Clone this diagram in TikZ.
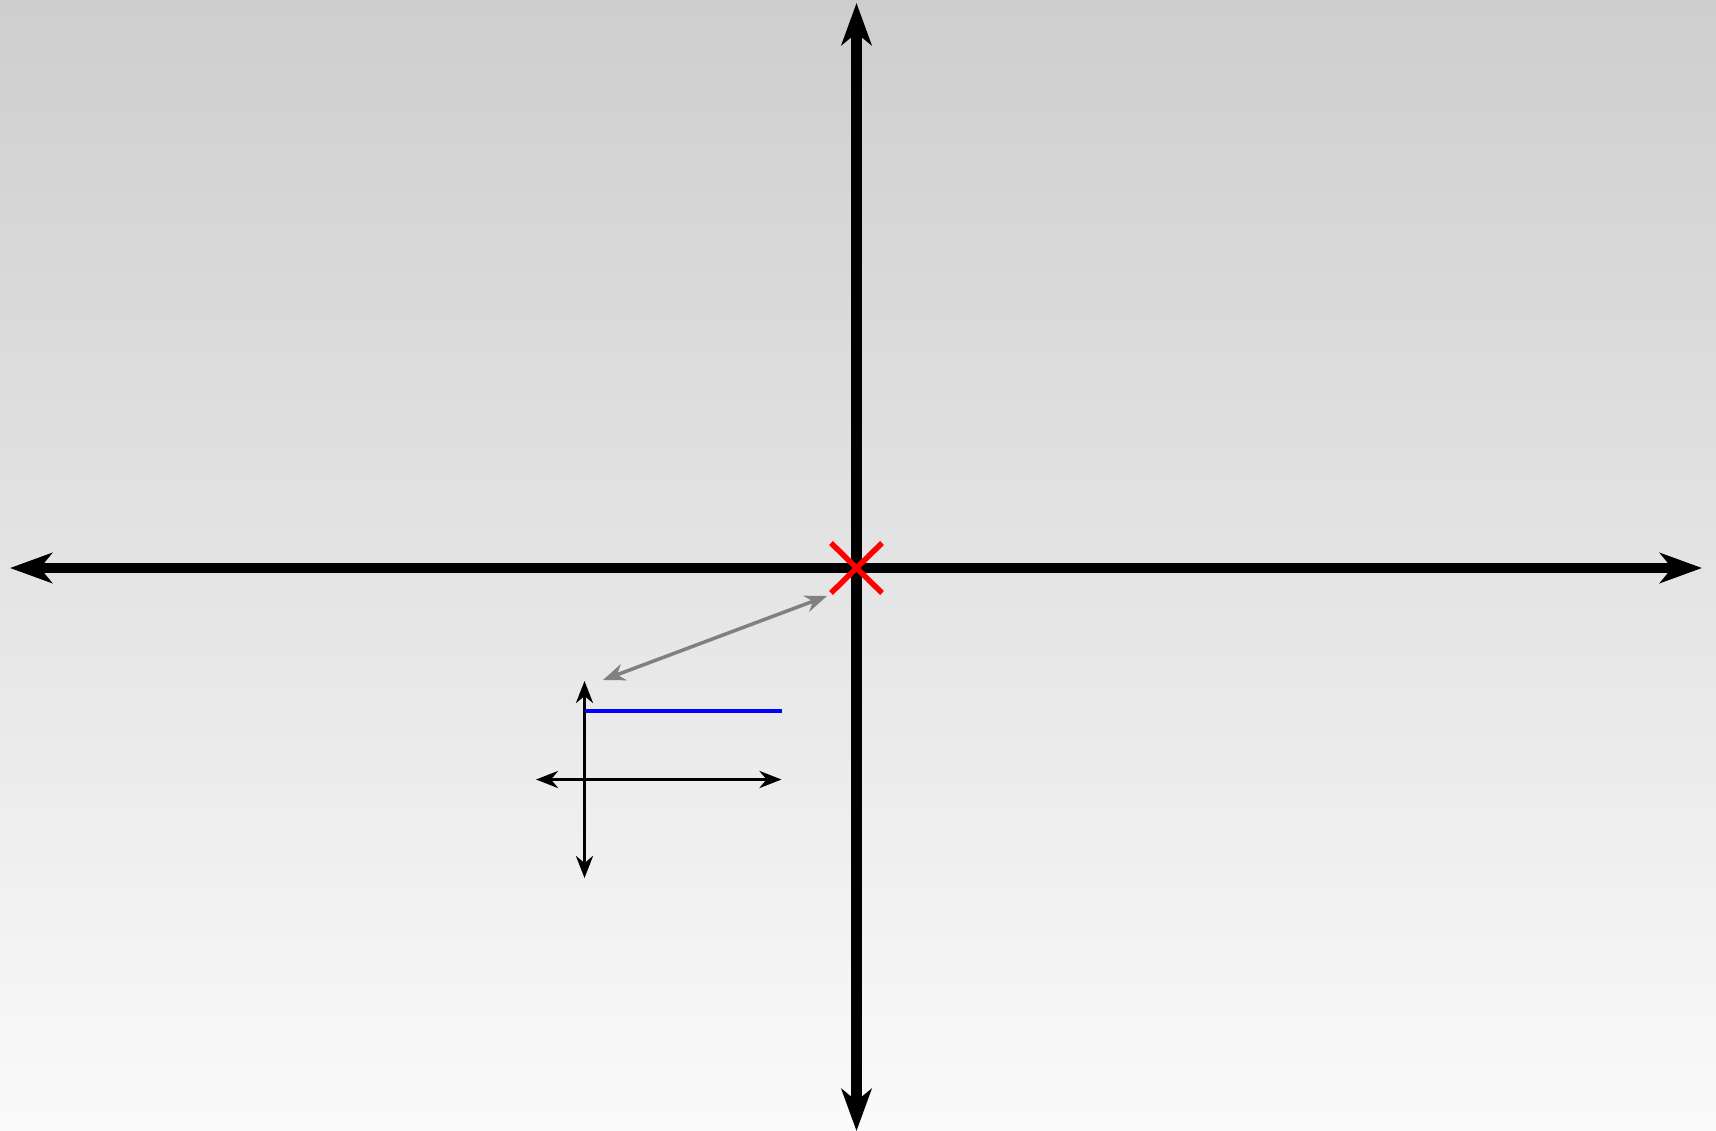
\documentclass[tikz,border=0pt]{standalone}
\usetikzlibrary{arrows.meta}
\definecolor{bgtop}{RGB}{206,206,206}
\definecolor{bgbot}{RGB}{250,250,250}
\definecolor{xred}{RGB}{255,0,0}
\definecolor{lblue}{RGB}{0,0,255}
\definecolor{lgrey}{RGB}{128,128,128}
\tikzset{
  bigaxis/.style={line width=10.5pt, {Stealth[length=42pt,width=30pt,inset=12pt]}-{Stealth[length=42pt,width=30pt,inset=12pt]}},
  smallaxis/.style={line width=3.5pt, {Stealth[length=22pt,width=17pt,inset=7pt]}-{Stealth[length=22pt,width=17pt,inset=7pt]}},
  greyarrow/.style={line width=3.5pt, draw=lgrey, {Stealth[length=22pt,width=17pt,inset=7pt]}-{Stealth[length=22pt,width=17pt,inset=7pt]}},
  crossline/.style={line width=5.5pt, draw=xred},
  blueline/.style={line width=4pt, draw=lblue}
}
\begin{document}
\begin{tikzpicture}[x=1pt,y=-1pt]
\shade[top color=bgtop, bottom color=bgbot] (0,0) rectangle (1716,1131);
\useasboundingbox (0,0) rectangle (1716,1131);
% main axes
\coordinate (vt) at (856.5,3);
\coordinate (vb) at (856.5,1131);
\coordinate (hl) at (10,568);
\coordinate (hr) at (1702,568);
\draw[bigaxis] (vt) -- (vb);
\draw[bigaxis] (hl) -- (hr);
% red cross
\coordinate (c1) at (831,543);
\coordinate (c2) at (882,593);
\coordinate (c3) at (882,543);
\coordinate (c4) at (831,593);
\draw[crossline] (c1) -- (c2);
\draw[crossline] (c3) -- (c4);
% grey arrow
\coordinate (ga) at (827,596);
\coordinate (gb) at (603,680);
\draw[greyarrow] (ga) -- (gb);
% small axes
\coordinate (st) at (584.5,681);
\coordinate (sb) at (584.5,878);
\coordinate (sl) at (536,779.5);
\coordinate (sr) at (781.5,779.5);
\draw[smallaxis] (st) -- (sb);
\draw[smallaxis] (sl) -- (sr);
% blue line
\coordinate (bl) at (584.5,710.5);
\coordinate (br) at (781.5,710.5);
\draw[blueline] (bl) -- (br);
\end{tikzpicture}
\end{document}
